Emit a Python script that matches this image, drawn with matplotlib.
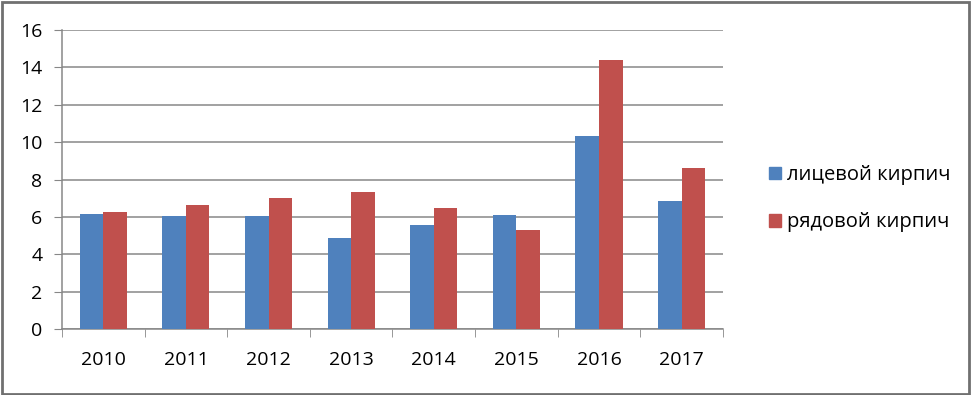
import numpy as np
import matplotlib.pyplot as plt
from matplotlib.patches import Rectangle, Patch

years = ["2010", "2011", "2012", "2013", "2014", "2015", "2016", "2017"]
facing = [6.18, 6.04, 6.03, 4.89, 5.55, 6.11, 10.34, 6.86]
common = [6.24, 6.63, 6.99, 7.33, 6.45, 5.30, 14.42, 8.60]
series_names = ["лицевой кирпич", "рядовой кирпич"]

plt.rcParams['font.family'] = ['Open Sans', 'DejaVu Sans']

fig = plt.figure(figsize=(9.72, 3.95), dpi=100)
ax = fig.add_axes([0.0638, 0.167, 0.680, 0.757])

x = np.arange(len(years))
w = 0.285
ax.bar(x - w / 2, facing, w, color="#4F81BD", zorder=3)
ax.bar(x + w / 2, common, w, color="#C0504D", zorder=3)

ax.set_xlim(-0.5, len(years) - 0.5)
ax.set_ylim(0, 16)
ax.set_yticks(range(0, 17, 2))
ax.yaxis.grid(True, color="#878787", linewidth=1.1, zorder=0)

ax.set_xticks(x)
ax.set_xticklabels(years, fontsize=14)
ax.set_xticks(np.arange(-0.5, len(years)), minor=True)
ax.tick_params(axis="x", which="major", length=0, pad=16)
ax.tick_params(axis="x", which="minor", length=6, color="#878787")
ax.tick_params(axis="y", length=6, color="#878787", labelsize=14, pad=8)

for s in ["top", "right"]:
    ax.spines[s].set_visible(False)
for s in ["left", "bottom"]:
    ax.spines[s].set_color("#878787")
    ax.spines[s].set_linewidth(1.1)

handles = [Patch(color="#4F81BD"), Patch(color="#C0504D")]
fig.legend(handles, series_names, loc="center left", bbox_to_anchor=(0.772, 0.497),
           frameon=False, fontsize=14.5, handlelength=0.6, handleheight=0.6,
           handletextpad=0.3, labelspacing=1.35)

fig.patches.append(Rectangle((0.002, 0.003), 0.995, 0.993, transform=fig.transFigure,
                             fill=False, edgecolor="#707070", linewidth=2))

fig.savefig("out.png", dpi=100)
